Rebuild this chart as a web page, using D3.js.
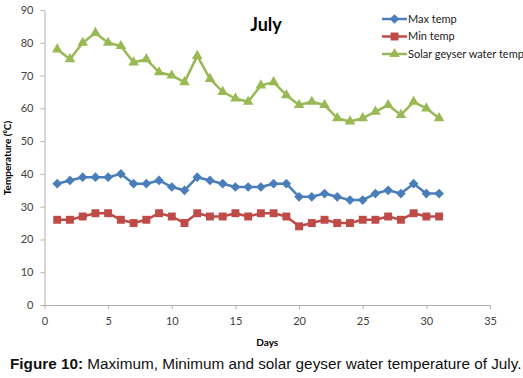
<!DOCTYPE html>
<html>
<head>
<meta charset="utf-8">
<script src="https://cdn.jsdelivr.net/npm/d3@7"></script>
<style>
  body { margin: 0; background: #fff; }
  svg { display: block; }
</style>
</head>
<body>
<div id="chart"></div>
<script>
// July temperatures

const days = d3.range(1, 32);
const maxTemp = [37, 38, 39, 39, 39, 40, 37, 37, 38, 36, 35, 39, 38, 37, 36, 36,
  36, 37, 37, 33, 33, 34, 33, 32, 32, 34, 35, 34, 37, 34, 34];
const minTemp = [26, 26, 27, 28, 28, 26, 25, 26, 28, 27, 25, 28, 27, 27, 28, 27,
  28, 28, 27, 24, 25, 26, 25, 25, 26, 26, 27, 26, 28, 27, 27];
const solarTemp = [78, 75, 80, 83, 80, 79, 74, 75, 71, 70, 68, 76, 69, 65, 63, 62,
  67, 68, 64, 61, 62, 61, 57, 56, 57, 59, 61, 58, 62, 60, 57];
const seriesNames = ["Max temp", "Min temp", "Solar geyser water temp"];
const xTicks = [0, 5, 10, 15, 20, 25, 30, 35];
const yTicks = [0, 10, 20, 30, 40, 50, 60, 70, 80, 90];

const width = 523,
    height = 378,
    margin = ({ top: 10, right: 33, bottom: 73, left: 44.5 }),
    font = "Lato, 'Open Sans', sans-serif";

const series = [
  { name: seriesNames[0], values: maxTemp, color: "#4A7EBB", symbol: d3.symbolDiamond2, size: 60 },
  { name: seriesNames[1], values: minTemp, color: "#BE4B48", symbol: d3.symbolSquare2, size: 80 },
  { name: seriesNames[2], values: solarTemp, color: "#98B954", symbol: d3.symbolTriangle2, size: 80 }
];

const svg = d3.select("#chart")
  .append("svg")
  .attr("width", width)
  .attr("height", height);

const x = d3.scaleLinear()
  .domain([0, 35])
  .range([margin.left, width - margin.right]);

const y = d3.scaleLinear()
  .domain([0, 90])
  .range([height - margin.bottom, margin.top]);

// axes
const xAxis = svg.append("g")
  .attr("transform", `translate(0,${height - margin.bottom})`)
  .call(d3.axisBottom(x).tickValues(xTicks).tickSize(4).tickPadding(8).tickSizeOuter(0));

const yAxis = svg.append("g")
  .attr("transform", `translate(${margin.left},0)`)
  .call(d3.axisLeft(y).tickValues(yTicks).tickSize(4).tickPadding(7).tickSizeOuter(0));

[xAxis, yAxis].forEach(a => {
  a.select(".domain").attr("stroke", "#b0b0b0");
  a.selectAll(".tick line").attr("stroke", "#b0b0b0");
  a.selectAll(".tick text")
    .attr("fill", "#404040")
    .style("font-family", font)
    .style("font-size", "11px");
});

// lines + markers
const line = d3.line()
  .x((d, i) => x(days[i]))
  .y(d => y(d));

series.forEach(s => {
  svg.append("path")
    .datum(s.values)
    .attr("fill", "none")
    .attr("stroke", s.color)
    .attr("stroke-width", 2.5)
    .attr("stroke-linejoin", "round")
    .attr("d", line);

  svg.append("g")
    .selectAll("path")
    .data(s.values)
    .join("path")
    .attr("transform", (d, i) => `translate(${x(days[i])},${y(d)})`)
    .attr("d", d3.symbol().type(s.symbol).size(s.size))
    .attr("fill", s.color);
});

// title
svg.append("text")
  .attr("x", 266)
  .attr("y", 31)
  .attr("text-anchor", "middle")
  .style("font-family", font)
  .style("font-weight", "bold")
  .style("font-size", "18px")
  .text("July");

// legend
const legend = svg.append("g")
  .attr("transform", "translate(382,19)");

const item = legend.selectAll("g")
  .data(series)
  .join("g")
  .attr("transform", (d, i) => `translate(0,${i * 17.5})`);

item.append("line")
  .attr("x1", 0).attr("x2", 25)
  .attr("stroke", d => d.color)
  .attr("stroke-width", 2.5);

item.append("path")
  .attr("transform", "translate(12.5,0)")
  .attr("d", d => d3.symbol().type(d.symbol).size(d.size)())
  .attr("fill", d => d.color);

item.append("text")
  .attr("x", 26)
  .attr("dy", "0.35em")
  .style("font-family", font)
  .style("font-size", "11px")
  .attr("fill", "#222")
  .text(d => d.name);

// axis titles
svg.append("text")
  .attr("x", (margin.left + width - margin.right) / 2)
  .attr("y", 346)
  .attr("text-anchor", "middle")
  .style("font-family", font)
  .style("font-weight", "bold")
  .style("font-size", "10px")
  .text("Days");

svg.append("text")
  .attr("transform", "translate(11,158) rotate(-90)")
  .attr("text-anchor", "middle")
  .style("font-family", font)
  .style("font-weight", "bold")
  .style("font-size", "10px")
  .text("Temperature (\u2070C)");

// caption
const caption = svg.append("text")
  .attr("x", 10)
  .attr("y", 369)
  .style("font-family", "'Liberation Sans', Arial, sans-serif")
  .style("font-size", "15.3px")
  .attr("fill", "#111");

caption.append("tspan")
  .style("font-weight", "bold")
  .text("Figure 10:");

caption.append("tspan")
  .text(" Maximum, Minimum and solar geyser water temperature of July.");
</script>
</body>
</html>
